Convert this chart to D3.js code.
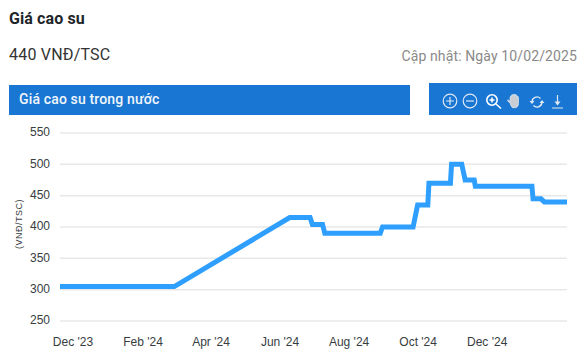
<!DOCTYPE html>
<html>
<head>
<meta charset="utf-8">
<script src="https://cdn.jsdelivr.net/npm/d3@7"></script>
<style>
  html, body { margin: 0; padding: 0; background: #fff; overflow: hidden; }
  svg { display: block; }
  text { font-family: Roboto, sans-serif; }
  .axis text { font-family: "Liberation Sans", Arial, sans-serif; font-size: 12px; fill: #373d3f; }
  .axis .domain, .axis .tick line { display: none; }
  .grid line { stroke: #e8e8e8; stroke-width: 1.5; }
</style>
</head>
<body>
<div id="chart"></div>
<script>
// values
const priceDates = [
  "2023-11-20", "2024-02-29", "2024-06-10", "2024-06-28", "2024-06-30", "2024-07-09",
  "2024-07-11", "2024-08-29", "2024-08-31", "2024-09-27", "2024-10-01", "2024-10-10",
  "2024-10-11", "2024-10-30", "2024-10-31", "2024-11-09", "2024-11-12", "2024-11-20",
  "2024-11-21", "2025-01-10", "2025-01-11", "2025-01-18", "2025-01-21", "2025-02-10"
]
const priceValues = [
  305, 305, 415, 415, 404, 404,
  390, 390, 400, 400, 435, 435,
  470, 470, 500, 500, 475, 475,
  465, 465, 445, 445, 440, 440
]
const xTickDates = ["2023-12-01", "2024-02-01", "2024-04-01", "2024-06-01", "2024-08-01", "2024-10-01", "2024-12-01"]
const xTickLabels = ["Dec '23", "Feb '24", "Apr '24", "Jun '24", "Aug '24", "Oct '24", "Dec '24"]
const yTicks = [250, 300, 350, 400, 450, 500, 550]

let width = 587, height = 364
let parseDate = d3.utcParse("%Y-%m-%d")

let svg = d3.select("#chart")
  .append("svg")
    .attr("width", width)
    .attr("height", height)

// header
svg.append("text")
  .attr("x", 9).attr("y", 24)
  .attr("font-size", 16).attr("font-weight", 700).attr("fill", "#212529")
  .attr("letter-spacing", 0.1)
  .text("Giá cao su")
svg.append("text")
  .attr("x", 9).attr("y", 60)
  .attr("font-size", 16).attr("fill", "#333")
  .attr("letter-spacing", 0.2)
  .text("440 VNĐ/TSC")
svg.append("text")
  .attr("x", 577).attr("y", 61)
  .attr("text-anchor", "end")
  .attr("font-size", 14).attr("fill", "#8a8a8a")
  .attr("letter-spacing", 0.12)
  .text("Cập nhật: Ngày 10/02/2025")

// blue bars
svg.append("rect")
  .attr("x", 9).attr("y", 85).attr("width", 401).attr("height", 30)
  .attr("fill", "#1976d2")
svg.append("text")
  .attr("x", 19).attr("y", 104)
  .attr("font-size", 14).attr("font-weight", 500).attr("fill", "#f2f6fb")
  .attr("letter-spacing", 0.15)
  .text("Giá cao su trong nước")
svg.append("rect")
  .attr("x", 429).attr("y", 83).attr("width", 148).attr("height", 32)
  .attr("fill", "#1976d2")

// toolbar icons
let icons = svg.append("g")
  .attr("fill", "none").attr("stroke", "#dfe9f5").attr("stroke-width", 1.2)

let plusIcon = icons.append("g").attr("transform", "translate(450,101)")
plusIcon.append("circle").attr("r", 6.8)
plusIcon.append("path").attr("d", "M-4,0H4M0,-4V4")

let minusIcon = icons.append("g").attr("transform", "translate(470,101)")
minusIcon.append("circle").attr("r", 6.8)
minusIcon.append("path").attr("d", "M-4,0H4")

let zoomIcon = icons.append("g").attr("transform", "translate(492,100)")
  .attr("stroke", "#fff").attr("stroke-width", 1.6)
zoomIcon.append("circle").attr("r", 5.2)
zoomIcon.append("path").attr("d", "M-2.5,0H2.5M0,-2.5V2.5M4,4L9,8.5")

let handIcon = icons.append("g").attr("transform", "translate(514.5,101.5) scale(0.88)")
handIcon.append("path")
  .attr("d", "M-5,2L-8,-1C-8,-2 -7,-2 -6,-1L-5,0V-5C-5,-6 -3.5,-6 -3.5,-5V-7C-3.5,-8 -1.5,-8 -1.5,-7V-7.5C-1.5,-8.5 0.5,-8.5 0.5,-7.5V-7C0.5,-8 2.5,-8 2.5,-7V-5C2.5,-6 4.5,-6 4.5,-5V2C4.5,5 3,7 1,7H-2C-3,7 -4,5 -5,2Z")
  .attr("fill", "#c9ced4").attr("stroke", "#e8eef6").attr("stroke-width", 0.8)

let resetIcon = icons.append("g").attr("transform", "translate(537,102)")
resetIcon.append("path").attr("d", "M-5,0A5,5 0 0 1 3.5,-3.6M5,0A5,5 0 0 1 -3.5,3.6").attr("stroke-width", 1.4)
resetIcon.append("path").attr("d", "M-7.5,-1L-5,2L-2.5,-1ZM7.5,1L5,-2L2.5,1Z").attr("fill", "#dfe9f5").attr("stroke", "none")

let downloadIcon = icons.append("g").attr("transform", "translate(557.5,101.5)")
downloadIcon.append("path").attr("d", "M0,-6.5V3M-5.5,6.5H5.5")
downloadIcon.append("path").attr("d", "M-3,0L0,4L3,0Z").attr("fill", "#dfe9f5").attr("stroke", "none")

// scales
let data = priceDates.map((d, i) => ({ date: parseDate(d), value: priceValues[i] }))

let xScale = d3.scaleUtc()
  .domain([data[0].date, data[data.length - 1].date])
  .range([60, 567])
let yScale = d3.scaleLinear()
  .domain([250, 550])
  .range([321, 133])

// grid
svg.append("g")
  .attr("class", "grid")
  .selectAll("line")
  .data(yTicks)
  .enter()
  .append("line")
  .attr("x1", 60)
  .attr("x2", 567)
  .attr("y1", d => yScale(d))
  .attr("y2", d => yScale(d))

// axes
let xAxis = d3.axisBottom(xScale)
  .tickValues(xTickDates.map(parseDate))
  .tickFormat((d, i) => xTickLabels[i])
  .tickSize(0)
  .tickPadding(0)
svg.append("g")
  .attr("class", "x axis")
  .attr("transform", "translate(0,337)")
  .call(xAxis)

let yAxis = d3.axisLeft(yScale)
  .tickValues(yTicks)
  .tickSize(0)
  .tickPadding(0)
svg.append("g")
  .attr("class", "y axis")
  .attr("transform", "translate(50,-1)")
  .call(yAxis)

svg.append("text")
  .attr("transform", "translate(22,224) rotate(-90)")
  .attr("text-anchor", "middle")
  .attr("font-size", 9)
  .attr("letter-spacing", 0.5)
  .attr("fill", "#373d3f")
  .style("font-family", "'Liberation Sans', Arial, sans-serif")
  .text("(VNĐ/TSC)")

// price line
let line = d3.line()
  .x(d => xScale(d.date))
  .y(d => yScale(d.value))

svg.append("path")
  .datum(data)
  .attr("d", line)
  .attr("fill", "none")
  .attr("stroke", "#2e9fff")
  .attr("stroke-width", 5)
</script>
</body>
</html>
